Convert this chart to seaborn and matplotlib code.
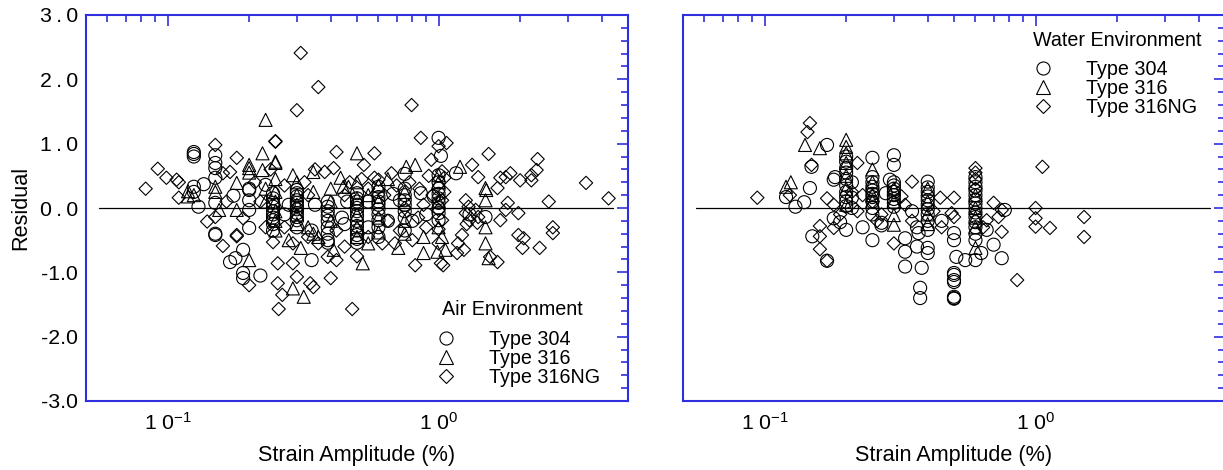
import numpy as np
import matplotlib
matplotlib.use("Agg")
import matplotlib.pyplot as plt
import seaborn as sns
from matplotlib.lines import Line2D
from matplotlib.ticker import (FixedLocator, FixedFormatter, MultipleLocator,
                               LogLocator, NullFormatter)

# ---------------- data ----------------
air_304_strain = [0.125, 0.125, 0.125, 0.125, 0.125, 0.13, 0.136,
                  0.15, 0.15, 0.15, 0.15, 0.15, 0.15, 0.15,
                  0.175, 0.17, 0.178, 0.19, 0.19, 0.19,
                  0.2, 0.2, 0.2, 0.2, 0.2, 0.22, 0.23,
                  0.245, 0.245, 0.245, 0.245, 0.245, 0.245, 0.245, 0.245, 0.245, 0.245,
                  0.27, 0.28,
                  0.30, 0.30, 0.30, 0.30, 0.30, 0.30, 0.30, 0.30, 0.30, 0.30, 0.30,
                  0.34, 0.34, 0.35,
                  0.39, 0.39, 0.39, 0.39, 0.39, 0.39, 0.39, 0.39, 0.39,
                  0.44, 0.45, 0.46,
                  0.5, 0.5, 0.5, 0.5, 0.5, 0.5, 0.5, 0.5, 0.5, 0.5, 0.5, 0.5, 0.5,
                  0.55, 0.55,
                  0.6, 0.6, 0.6, 0.6, 0.6, 0.6, 0.6, 0.6, 0.6, 0.6,
                  0.65, 0.68,
                  0.75, 0.75, 0.75, 0.75, 0.75, 0.75, 0.75, 0.75,
                  0.8, 0.86, 0.9, 0.72,
                  1.0, 1.02, 1.0, 1.0, 1.0, 1.0, 1.0, 1.0, 1.0, 1.0, 1.0, 0.96,
                  1.16, 1.49, 1.3]
air_304_resid = [0.87, 0.84, 0.80, 0.33, 0.25, 0.02, 0.37,
                 0.82, 0.70, 0.62, 0.47, 0.08, -0.40, -0.42,
                 0.19, -0.84, -0.78, -0.65, -1.01, -1.09,
                 0.30, 0.28, 0.12, -0.03, -0.31, -1.05, 0.36,
                 0.23, 0.15, 0.08, 0.02, -0.05, -0.10, -0.15, -0.19, -0.25, -0.35,
                 -0.10, 0.05,
                 0.28, 0.23, 0.18, 0.12, 0.08, 0.03, -0.02, -0.08, -0.14, -0.19, -0.30,
                 -0.81, -0.35, 0.05,
                 0.10, 0.02, -0.05, -0.12, -0.20, -0.30, -0.40, -0.50, -0.54,
                 -0.15, -0.25, 0.10,
                 0.23, 0.15, 0.10, 0.05, 0.0, -0.05, -0.12, -0.20, -0.28, -0.35, -0.42, -0.48, -0.54,
                 0.10, -0.30,
                 0.33, 0.25, 0.17, 0.10, 0.05, -0.02, -0.10, -0.19, -0.30, -0.45,
                 -0.20, 0.22,
                 0.53, 0.30, 0.20, 0.12, 0.05, -0.05, -0.15, -0.35,
                 -0.20, 0.23, -0.10, 0.12,
                 1.09, 0.81, 0.51, 0.40, 0.30, 0.22, 0.15, 0.08, 0.0, -0.08, -0.19, 0.18,
                 0.54, -0.14, -0.10]

air_316_strain = [0.119, 0.119, 0.125, 0.15, 0.15, 0.155, 0.18, 0.18,
                  0.2, 0.2, 0.2, 0.2, 0.224, 0.224, 0.23, 0.23, 0.23,
                  0.25, 0.25, 0.25, 0.25, 0.25, 0.25, 0.25, 0.25,
                  0.28, 0.29, 0.29, 0.30, 0.30, 0.30, 0.30, 0.30, 0.31, 0.318,
                  0.345, 0.345, 0.345, 0.40, 0.40, 0.40, 0.41, 0.435, 0.445, 0.465,
                  0.5, 0.5, 0.5, 0.5, 0.5, 0.5, 0.525, 0.55,
                  0.6, 0.6, 0.6, 0.6, 0.71, 0.76, 0.82, 0.75, 0.75, 0.75,
                  0.88, 0.88, 0.99, 1.0, 1.0, 1.0, 1.0, 1.03, 1.06, 1.2,
                  1.49, 1.49, 1.5, 1.49, 1.49, 1.53, 0.55, 0.65, 0.33, 0.36]
air_316_resid = [0.26, 0.18, 0.20, 0.33, 0.25, -0.03, 0.39, -0.03,
                 0.67, 0.62, 0.55, -0.81, 0.85, 0.59, 1.37, 0.30, 0.10,
                 0.72, 0.70, 0.45, 0.25, 0.10, -0.05, -0.20, -0.35,
                 -0.50, 0.51, -1.25, 0.40, 0.20, 0.05, -0.10, -0.25, -0.62, -1.38,
                 0.56, 0.25, -0.40, 0.30, 0.10, -0.20, -0.65, 0.47, 0.33, 0.33,
                 0.85, 0.40, 0.15, -0.10, -0.30, -0.45, -0.86, 0.20,
                 0.35, 0.10, -0.15, -0.38, -0.62, 0.64, 0.67, 0.25, -0.20, -0.40,
                 -0.70, -0.45, -0.68, 0.51, 0.40, 0.10, -0.30, -0.45, -0.65, 0.64,
                 0.31, 0.12, 0.28, -0.30, -0.55, -0.78, -0.55, 0.45, -0.30, -0.45]

air_316ng_strain = [0.083, 0.092, 0.099, 0.108, 0.11, 0.11,
                    0.14, 0.15, 0.15, 0.16, 0.17, 0.18, 0.19, 0.18, 0.16, 0.2, 0.18, 0.165,
                    0.25, 0.25, 0.30, 0.31, 0.36, 0.42, 0.58, 0.795, 0.86, 1.07, 0.94, 1.33,
                    1.53, 2.32, 3.5, 4.24, 2.55,
                    2.3, 2.2, 2.2, 2.0, 1.84, 1.77, 1.69, 1.4, 1.65, 1.97, 1.8, 1.77, 1.69,
                    1.26, 1.29, 1.26, 1.3, 1.27, 1.22, 1.18, 1.24, 1.17, 1.37, 1.4, 1.39,
                    1.97, 2.06, 2.04, 2.36, 2.64, 2.64, 1.55, 1.65, 1.04, 0.82,
                    1.0, 1.03, 1.05, 1.05, 1.03, 1.0, 1.03, 1.0, 1.0, 1.02,
                    0.255, 0.29, 0.255, 0.30, 0.336, 0.345, 0.265, 0.257, 0.40, 0.48, 0.42, 0.39,
                    0.38, 0.41, 0.53, 0.67, 0.58, 0.6,
                    0.27, 0.32, 0.35, 0.45, 0.55, 0.7, 0.65, 0.72, 0.8, 0.85, 0.9, 0.33,
                    0.245, 0.29, 0.36, 0.45, 0.55, 0.62, 0.69, 0.92, 0.75, 0.63, 0.47,
                    0.22, 0.23, 0.21, 0.27, 0.24, 0.33, 0.5, 0.84, 0.95, 0.88, 0.78, 0.42, 0.52]
air_316ng_resid = [0.30, 0.61, 0.47, 0.44, 0.40, 0.16,
                   -0.21, -0.14, 0.98, 0.54, 0.56, 0.78, -0.16, -0.44, -0.59, -1.20, -0.42, 0.10,
                   1.03, 1.04, 1.52, 2.41, 1.88, 0.87, 0.85, 1.60, 1.09, 1.01, 0.75, 0.67,
                   0.84, 0.76, 0.39, 0.15, 0.10,
                   0.59, 0.51, 0.43, 0.43, 0.54, 0.48, 0.47, 0.48, 0.31, -0.08, 0.08, -0.03, -0.19,
                   0.12, 0.02, -0.08, -0.19, -0.25, -0.42, -0.55, -0.65, -0.70, -0.03, -0.14, -0.23,
                   -0.42, -0.47, -0.62, -0.62, -0.30, -0.39, -0.76, -0.84, -0.89, -0.89,
                   0.96, 0.57, 0.47, 0.25, 0.12, -0.03, -0.19, -0.33, -0.55, -0.86,
                   -0.86, -0.86, -1.17, -1.07, -1.17, -1.23, -1.35, -1.57, -1.09, -1.57, -0.81, -0.76,
                   0.56, 0.62, 0.67, 0.54, 0.47, 0.44,
                   0.35, 0.40, 0.60, 0.20, 0.30, 0.35, -0.20, -0.35, -0.50, 0.30, -0.30, -0.45,
                   -0.53, -0.55, -0.55, -0.60, -0.45, -0.55, -0.55, 0.50, 0.0, 0.20, 0.40,
                   0.10, -0.30, 0.40, -0.30, 0.60, 0.20, -0.75, -0.15, 0.20, 0.05, 0.40, -0.35, 0.45]

water_304_strain = [0.12, 0.13, 0.14, 0.147, 0.149, 0.17, 0.15, 0.17,
                    0.182, 0.18, 0.18, 0.19, 0.2,
                    0.2, 0.2, 0.2, 0.2, 0.2, 0.2, 0.2, 0.2, 0.2, 0.2,
                    0.21, 0.21, 0.21,
                    0.25, 0.25, 0.25, 0.25, 0.25, 0.25, 0.25, 0.25, 0.25, 0.25, 0.25,
                    0.23, 0.27, 0.28, 0.27,
                    0.3, 0.3, 0.29, 0.3, 0.3, 0.3, 0.3, 0.3, 0.3, 0.3, 0.3,
                    0.33, 0.33, 0.33, 0.365, 0.37, 0.365, 0.38, 0.375, 0.375,
                    0.40, 0.4, 0.4, 0.4, 0.4, 0.4, 0.4, 0.4, 0.4, 0.4, 0.4, 0.4,
                    0.5, 0.5, 0.51, 0.55, 0.6, 0.5, 0.5, 0.5, 0.5, 0.5, 0.5, 0.5,
                    0.6, 0.6, 0.6, 0.6, 0.6, 0.6, 0.6, 0.6, 0.6, 0.6, 0.6, 0.6, 0.6, 0.6,
                    0.63, 0.70, 0.75, 0.77, 0.66, 0.45, 0.35]
water_304_resid = [0.17, 0.02, 0.09, 0.31, 0.64, 0.98, -0.44, -0.82,
                   0.48, 0.44, -0.16, -0.22, -0.34,
                   0.80, 0.72, 0.62, 0.55, 0.45, 0.35, 0.25, 0.17, 0.10, 0.03,
                   0.40, 0.16, 0.0,
                   0.78, 0.48, 0.40, 0.33, 0.27, 0.22, 0.17, 0.10, 0.0, -0.10, -0.50,
                   -0.30, -0.27, 0.23, -0.23,
                   0.82, 0.67, 0.44, 0.40, 0.35, 0.30, 0.25, 0.20, 0.14, 0.08, 0.02,
                   -0.47, -0.68, -0.91, -0.30, -0.39, -0.60, -0.93, -1.24, -1.40,
                   0.41, 0.32, 0.25, 0.18, 0.12, 0.05, -0.02, -0.10, -0.20, -0.34, -0.62, -0.70,
                   -0.39, -0.50, -0.76, -0.81, -0.81, -1.01, -1.12, -1.38, -1.40, -1.41, -1.04, -1.15,
                   0.48, 0.40, 0.33, 0.27, 0.20, 0.13, 0.07, 0.0, -0.07, -0.14, -0.22, -0.30, -0.40, -0.50,
                   -0.70, -0.57, -0.78, -0.03, -0.34, -0.20, -0.05]

water_316_strain = [0.125, 0.12, 0.141, 0.16, 0.2, 0.2, 0.2, 0.2, 0.2, 0.2, 0.2,
                    0.25, 0.25, 0.25, 0.25, 0.3, 0.3, 0.3, 0.3,
                    0.4, 0.4, 0.4, 0.4, 0.6, 0.6, 0.6, 0.6, 0.6]
water_316_resid = [0.40, 0.33, 0.98, 0.93, 1.06, 0.95, 0.85, 0.70, 0.50, 0.30, 0.05,
                   0.60, 0.40, 0.20, 0.10, 0.30, 0.10, -0.11, -0.26,
                   0.30, 0.10, -0.10, -0.25, 0.20, 0.0, -0.15, -0.30, -0.62]

water_316ng_strain = [0.094, 0.147, 0.144, 0.149, 0.124, 0.17, 0.22, 0.23, 0.16, 0.16, 0.16,
                      0.17, 0.18, 0.19, 0.18,
                      0.35, 0.33, 0.30, 0.445, 0.5, 0.49, 0.5, 0.60, 0.60, 0.70, 0.75, 0.73,
                      0.75, 0.66, 0.64, 0.855, 1.0, 1.0, 1.0, 1.13, 1.06, 1.51, 1.51,
                      0.27, 0.35, 0.42, 0.45, 0.22, 0.25, 0.26, 0.21, 0.32, 0.6, 0.6]
water_316ng_resid = [0.16, 1.32, 1.18, 0.67, 0.20, 0.15, 0.70, 0.20, -0.28, -0.44, -0.64,
                     -0.82, -0.31, -0.10, 0.05,
                     0.41, 0.05, -0.55, 0.16, 0.16, -0.08, -0.14, 0.62, 0.55, 0.08, -0.03, -0.14,
                     -0.37, -0.19, -0.30, -1.12, 0.0, -0.16, -0.29, -0.31, 0.64, -0.14, -0.45,
                     -0.10, -0.20, -0.05, -0.30, -0.05, 0.10, -0.20, 0.25, 0.18, 0.45, 0.30]

series_labels = ["Type 304", "Type 316", "Type 316NG"]
panel_titles = ["Air Environment", "Water Environment"]
xtick_values = [0.1, 1.0]
xtick_labels = ["1 0$^{-1}$", "1 0$^{0}$"]
ytick_values = [-3, -2, -1, 0, 1, 2, 3]
ytick_labels = ["-3.0", "-2.0", "-1.0", "0\u2009.\u20090", "1\u2009.\u20090",
                "2\u2009.\u20090", "3\u2009.\u20090"]
zero_line_x = [0.056, 4.4]

# ---------------- style ----------------
sns.set_style("white")
plt.rcParams['font.family'] = ['Liberation Sans', 'DejaVu Sans']
plt.rcParams['mathtext.fontset'] = 'custom'
plt.rcParams['mathtext.rm'] = 'Liberation Sans'
plt.rcParams['mathtext.it'] = 'Liberation Sans:italic'
plt.rcParams['mathtext.bf'] = 'Liberation Sans:bold'
plt.rcParams['text.color'] = 'black'
plt.rcParams['axes.labelcolor'] = 'black'
plt.rcParams['xtick.labelcolor'] = 'black'
plt.rcParams['ytick.labelcolor'] = 'black'

BLUE = "#2f2fe0"
TICK_FS = 15.3
LABEL_FS = 15.6
LEG_FS = 14.2

W, H = 1223, 470
fig = plt.figure(figsize=(W / 100, H / 100), dpi=100)


def px_axes(x0, y0, x1, y1):
    return fig.add_axes([x0 / W, 1 - y1 / H, (x1 - x0) / W, (y1 - y0) / H])


ax1 = px_axes(86, 15, 628, 401)
ax2 = px_axes(683, 15, 1225, 401)

markers = ["o", "^", "D"]
sizes = [88, 88, 46]
msizes = [9.4, 9.4, 6.8]

panels = [
    (ax1, [(air_304_strain, air_304_resid), (air_316_strain, air_316_resid),
           (air_316ng_strain, air_316ng_resid)]),
    (ax2, [(water_304_strain, water_304_resid), (water_316_strain, water_316_resid),
           (water_316ng_strain, water_316ng_resid)]),
]

for ax, series in panels:
    ax.plot(zero_line_x, [0, 0], color="black", lw=0.9, zorder=2)
    for (xs, ys), mk, s in zip(series, markers, sizes):
        sns.scatterplot(x=xs, y=ys, ax=ax, marker=mk, s=s, facecolor="none",
                        edgecolor="black", linewidth=0.8, legend=False, zorder=3)
    ax.set_xscale("log")
    ax.set_xlim(0.05, 5.0)
    ax.set_ylim(-3, 3)
    ax.xaxis.set_major_locator(FixedLocator(xtick_values))
    ax.xaxis.set_major_formatter(FixedFormatter(xtick_labels))
    ax.xaxis.set_minor_locator(LogLocator(base=10, subs=np.arange(2, 10), numticks=20))
    ax.xaxis.set_minor_formatter(NullFormatter())
    ax.yaxis.set_major_locator(FixedLocator(ytick_values))
    ax.yaxis.set_major_formatter(FixedFormatter(ytick_labels))
    ax.yaxis.set_minor_locator(MultipleLocator(0.2))
    ax.tick_params(which="both", direction="in", top=True, right=True,
                   color=BLUE, width=1.2, labelsize=TICK_FS, labelcolor="black")
    ax.tick_params(which="major", length=8)
    ax.tick_params(which="minor", length=4.8)
    ax.tick_params(axis="x", which="major", pad=8)
    ax.tick_params(axis="y", which="major", pad=6)
    for sp in ax.spines.values():
        sp.set_color(BLUE)
        sp.set_linewidth(1.5)
        sp.set_visible(True)
    ax.set_xlabel("Strain Amplitude (%)", fontsize=LABEL_FS, labelpad=8, color="black")
    ax.set_facecolor("white")
    ax.grid(False)

ax1.set_ylabel("Residual", fontsize=LABEL_FS, labelpad=6, color="black")
ax2.set_ylabel("")
ax2.tick_params(axis="y", labelleft=False)

handles = [Line2D([], [], ls="none", marker=m, ms=ms, mfc="none", mec="black", mew=0.8)
           for m, ms in zip(markers, msizes)]

# panel legends: header text + marker legend
for ax, title, hx, hy, lx, ly in [(ax1, panel_titles[0], 0.657, 0.238, 0.653, 0.185),
                                   (ax2, panel_titles[1], 0.646, 0.935, 0.653, 0.884)]:
    ax.text(hx, hy, title, transform=ax.transAxes, ha="left", va="center",
            fontsize=LEG_FS, color="black")
    leg = ax.legend(handles, series_labels, loc="upper left", bbox_to_anchor=(lx, ly),
                    bbox_transform=ax.transAxes, frameon=False, fontsize=LEG_FS,
                    handlelength=0.6, handletextpad=1.9, labelspacing=0.0,
                    borderpad=0, borderaxespad=0)
    for t in leg.get_texts():
        t.set_color("black")

fig.savefig("out.png", dpi=100, facecolor="white")
